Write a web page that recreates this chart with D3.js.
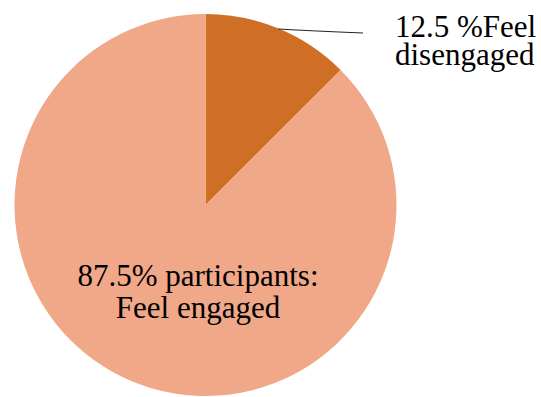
<!DOCTYPE html>
<html>
<head>
<meta charset="utf-8">
<script src="https://cdn.jsdelivr.net/npm/d3@7"></script>
<style>
html,body{margin:0;padding:0;background:#fff;}
svg{display:block;}
text{font-family:"Liberation Serif","Times New Roman",Times,"DejaVu Serif",serif;}
</style>
</head>
<body>
<svg id="chart" width="541" height="397"></svg>
<script>
const categories = ["Feel disengaged", "Feel engaged"];
const values = [12.5, 87.5];
const colors = ["#CF6F26", "#F0A889"];
const labelLines = [["12.5 %Feel", "disengaged"], ["87.5% participants:", "Feel engaged"]];

const svg = d3.select("#chart");
const cx = 205.5, cy = 205, r = 191;
const g = svg.append("g").attr("transform", `translate(${cx},${cy})`);

const pie = d3.pie().sort(null).value(d => d.value);
const arcs = pie(categories.map((c, i) => ({cat: c, value: values[i], i})));
const arc = d3.arc().innerRadius(0).outerRadius(r);

g.selectAll("path.slice").data(arcs).enter().append("path")
  .attr("class", "slice")
  .attr("d", arc)
  .attr("fill", d => colors[d.data.i]);

// leader line for small slice
const a0 = arcs[0];
const mid = (a0.startAngle + a0.endAngle) / 2;
const px = cx + Math.sin(mid) * (r - 0.5), py = cy - Math.cos(mid) * (r - 0.5);
svg.append("path")
  .attr("d", `M${px},${py} Q${px + 30},${py + 1.8} 363,33`)
  .attr("fill", "none").attr("stroke", "#222").attr("stroke-width", 1);

const t1 = svg.append("text").attr("font-size", 31).attr("fill", "#000");
t1.append("tspan").attr("x", 395).attr("y", 36.5).text(labelLines[0][0]);
t1.append("tspan").attr("x", 395).attr("y", 65).text(labelLines[0][1]);

const t2 = svg.append("text").attr("font-size", 31).attr("fill", "#000")
  .attr("text-anchor", "middle");
t2.append("tspan").attr("x", 198).attr("y", 286).text(labelLines[1][0]);
t2.append("tspan").attr("x", 198).attr("y", 318).text(labelLines[1][1]);
</script>
</body>
</html>
